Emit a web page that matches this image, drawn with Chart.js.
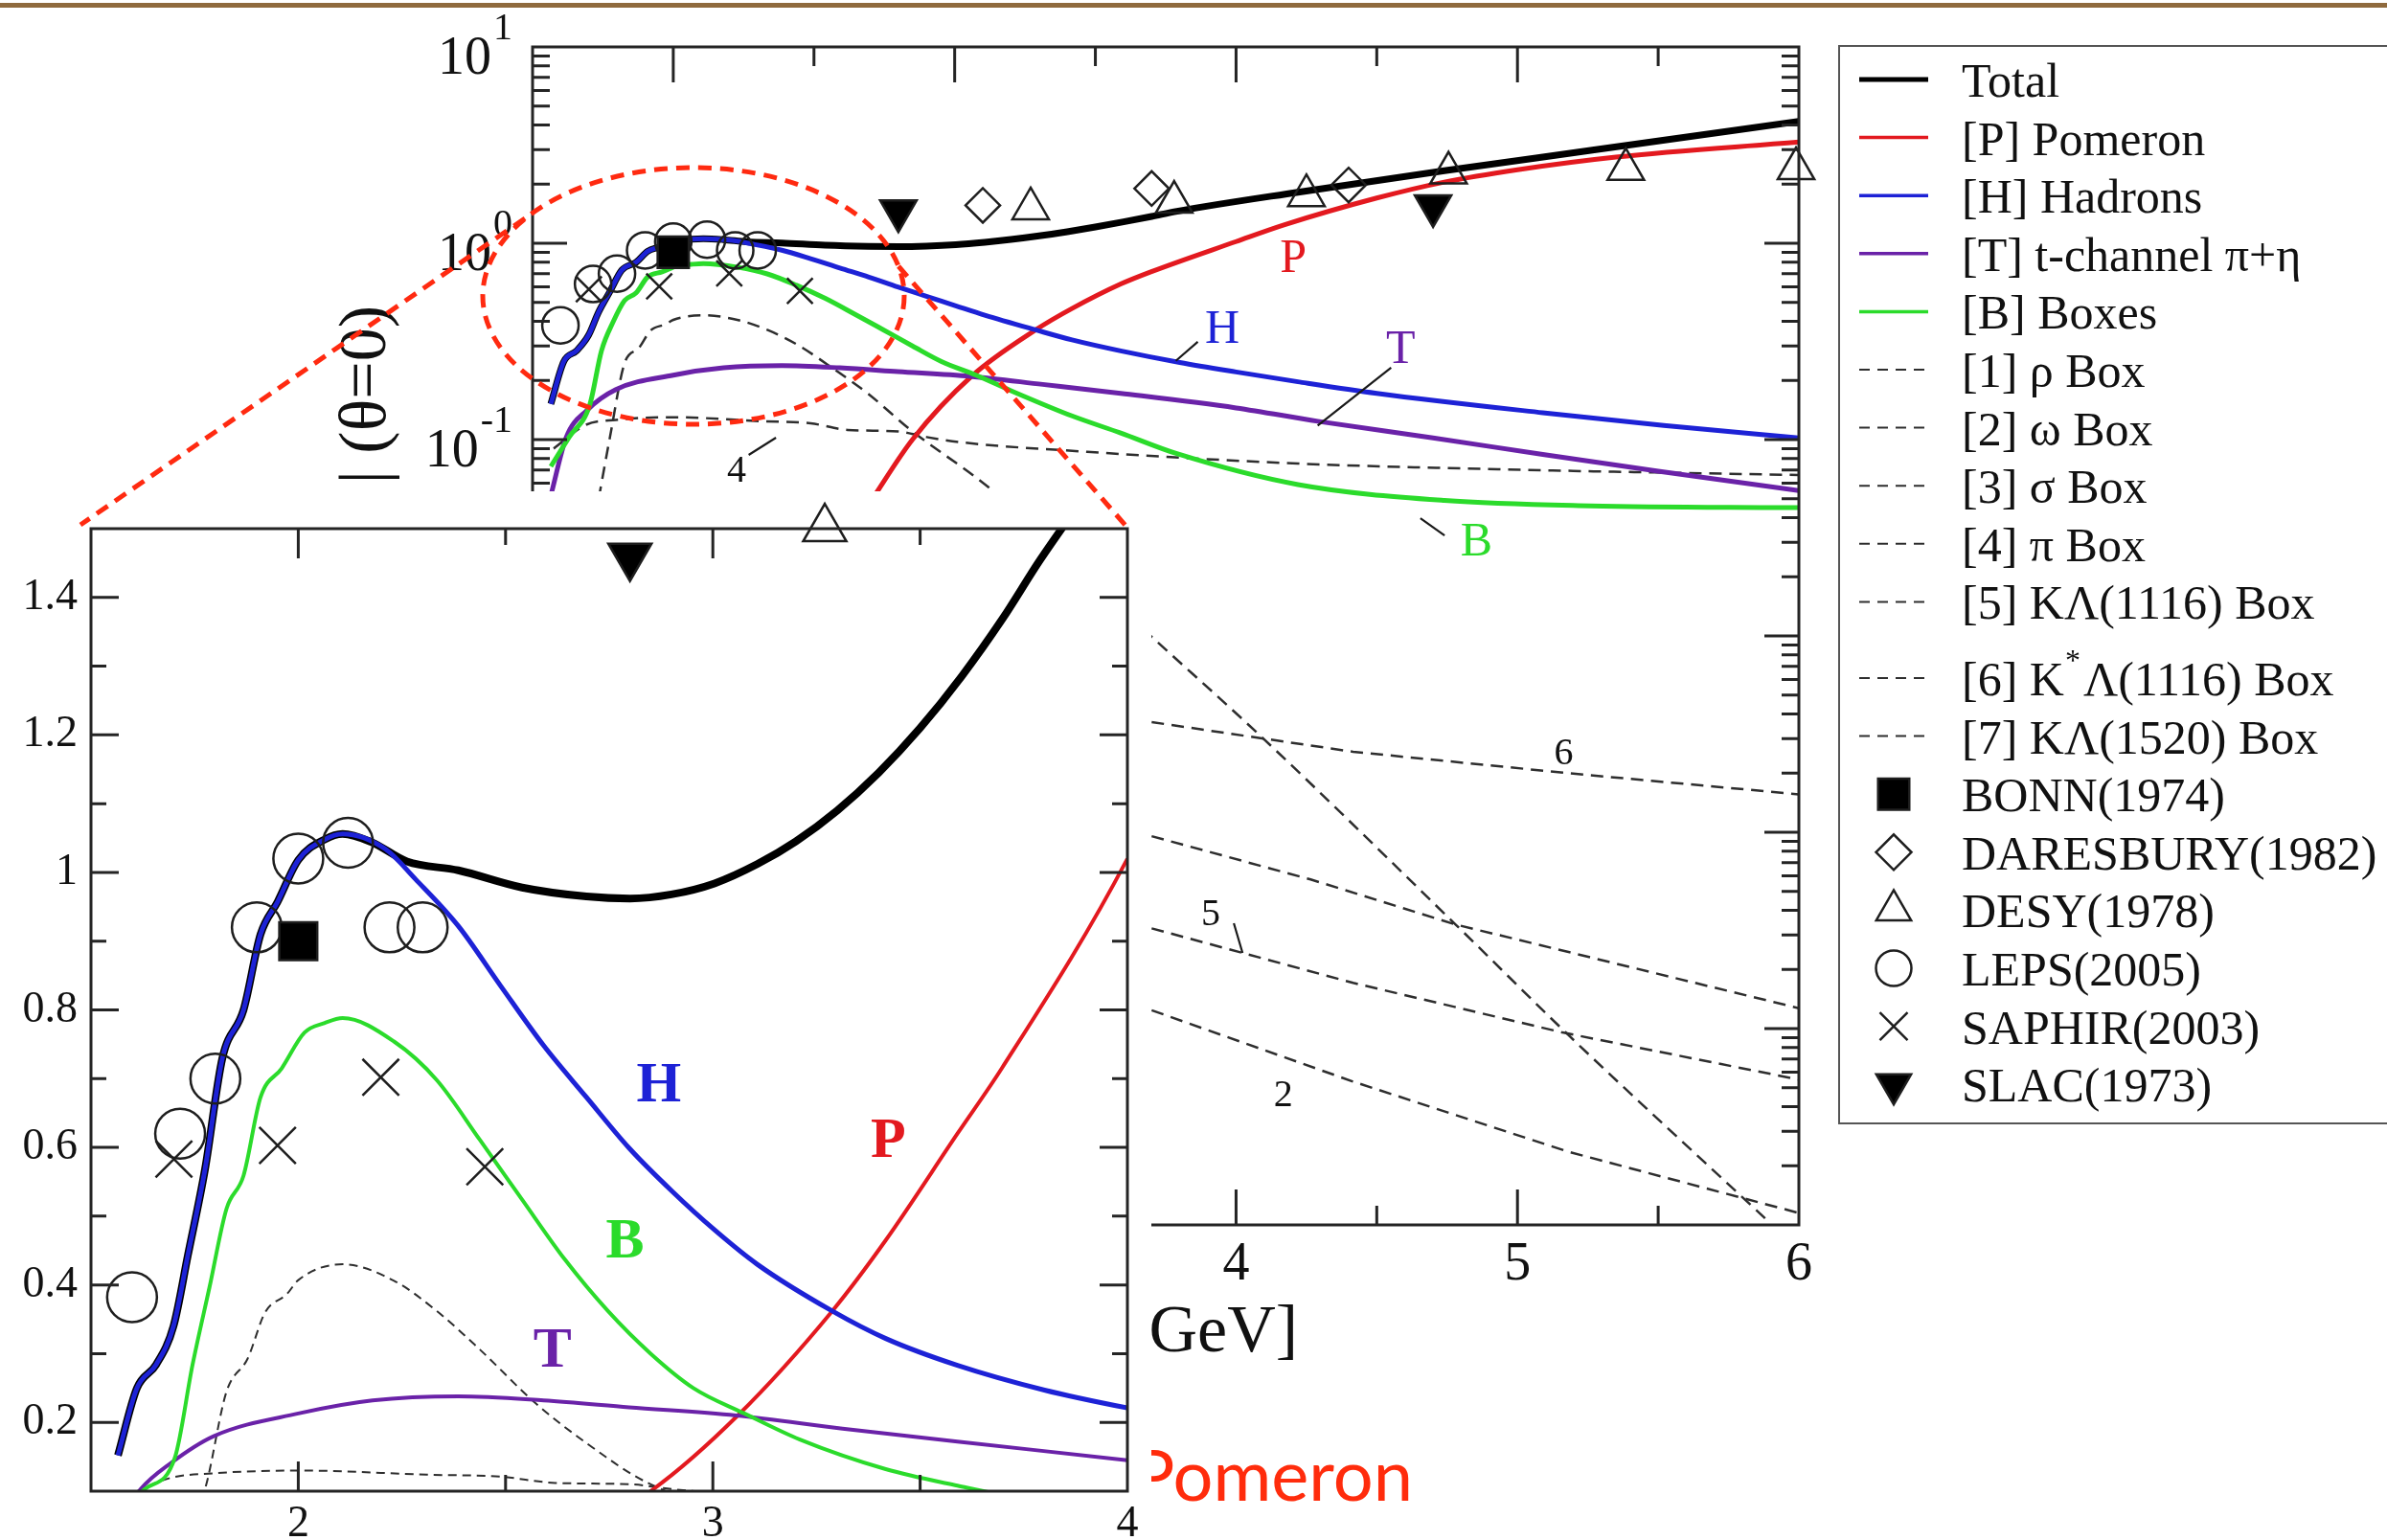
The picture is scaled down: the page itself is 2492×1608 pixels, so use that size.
<!DOCTYPE html>
<html>
<head>
<meta charset="utf-8">
<title>Forward photoproduction cross section</title>
<script src="https://cdn.jsdelivr.net/npm/chart.js@4.4.1/dist/chart.umd.min.js"></script>
<style>
  html, body { margin: 0; padding: 0; background: #ffffff; width: 2492px; height: 1608px; overflow: hidden; }
  canvas { position: absolute; left: 0; top: 0; }
</style>
</head>
<body>
<canvas id="mainChart" width="2492" height="1608"></canvas>
<canvas id="zoomChart" width="2492" height="1608"></canvas>
<script>
// ---------------- model curves: [W (GeV), dσ/dt at θ=0] ----------------
const total = [[1.565,0.152],[1.611,0.25],[1.657,0.284],[1.699,0.34],[1.734,0.444],[1.775,0.568],[1.817,0.73],[1.868,0.80],[1.909,0.91],[1.95,0.957],[2.0,1.018],[2.064,1.048],[2.107,1.056],[2.177,1.044],[2.262,1.016],[2.386,1.003],[2.54,0.978],[2.695,0.965],[2.80,0.962],[2.90,0.968],[3.004,0.984],[3.107,1.012],[3.20,1.045],[3.30,1.09],[3.40,1.145],[3.50,1.21],[3.60,1.285],[3.70,1.37],[3.79,1.455],[4.22,1.82],[4.74,2.34],[5.26,2.97],[6.0,4.18]];
const pomeron = [[2.70,0.048],[2.85,0.10],[3.06,0.21],[3.288,0.362],[3.417,0.465],[3.59,0.62],[3.697,0.715],[4.0,1.02],[4.17,1.24],[4.5,1.70],[4.74,2.05],[5.0,2.37],[5.35,2.75],[6.0,3.28]];
const hadrons = [[1.565,0.152],[1.611,0.25],[1.657,0.284],[1.699,0.34],[1.734,0.444],[1.775,0.568],[1.817,0.73],[1.868,0.80],[1.909,0.91],[1.95,0.957],[2.0,1.018],[2.064,1.048],[2.107,1.056],[2.21,1.034],[2.283,0.99],[2.386,0.922],[2.488,0.835],[2.592,0.748],[2.695,0.673],[2.798,0.599],[2.902,0.536],[3.004,0.48],[3.107,0.43],[3.288,0.362],[3.417,0.322],[3.59,0.283],[3.80,0.247],[4.0,0.221],[4.22,0.197],[4.5,0.172],[5.09,0.137],[5.52,0.118],[6.0,0.102]];
const tChannel = [[1.565,0.052],[1.62,0.103],[1.693,0.141],[1.796,0.18],[2.0,0.213],[2.179,0.232],[2.386,0.238],[2.592,0.232],[2.798,0.222],[3.056,0.21],[3.313,0.191],[3.59,0.172],[4.0,0.145],[4.29,0.124],[4.7,0.102],[5.09,0.084],[5.5,0.069],[6.0,0.055]];
const boxes = [[1.565,0.073],[1.63,0.103],[1.703,0.15],[1.745,0.284],[1.786,0.397],[1.827,0.511],[1.868,0.559],[1.909,0.673],[1.96,0.715],[2.015,0.767],[2.064,0.781],[2.107,0.788],[2.231,0.754],[2.334,0.698],[2.438,0.611],[2.54,0.524],[2.643,0.437],[2.747,0.362],[2.85,0.30],[2.953,0.25],[3.076,0.213],[3.21,0.175],[3.417,0.132],[3.59,0.108],[3.787,0.085],[4.22,0.059],[4.74,0.049],[5.26,0.046],[6.0,0.045]];
const rhoBox = [[1.735,0.05],[1.775,0.103],[1.827,0.245],[1.878,0.293],[1.92,0.36],[1.973,0.387],[2.0,0.407],[2.107,0.43],[2.231,0.406],[2.334,0.362],[2.438,0.306],[2.572,0.228],[2.695,0.17],[2.84,0.113],[3.128,0.056],[3.70,9.9e-3],[4.08,3.16e-3],[4.78,3.39e-4],[5.18,9.3e-5],[5.88,1.08e-5]];
const omegaBox = [[3.70,1.24e-4],[4.416,5.37e-5],[5.18,2.36e-5],[6.0,1.15e-5]];
const sigmaBox = [];
const piBox = [[1.575,0.09],[1.69,0.119],[1.796,0.126],[2.0,0.13],[2.31,0.124],[2.488,0.121],[2.62,0.112],[2.8,0.11],[2.9,0.103],[3.02,0.097],[3.45,0.087],[4.22,0.0755],[5.09,0.0698],[6.0,0.066]];
const kLambdaBox = [[3.70,3.24e-4],[4.416,1.71e-4],[5.16,9.55e-5],[6.0,5.5e-5]];
const kStarLambdaBox = [[3.70,3.64e-3],[4.416,2.57e-3],[5.18,2.0e-3],[6.0,1.56e-3]];
const kLambda1520Box = [[3.70,9.55e-4],[4.265,5.75e-4],[4.78,3.39e-4],[6.0,1.27e-4]];

// ---------------- measurements ----------------
const bonn = [[2.0,0.90]];
const daresbury = [[3.10,1.56],[3.70,1.90],[4.40,1.98]];
const desy = [[3.27,1.50],[3.78,1.62],[4.25,1.75],[4.755,2.28],[5.385,2.38],[5.99,2.40]];
const leps = [[1.599,0.382],[1.715,0.62],[1.80,0.70],[1.90,0.92],[2.0,1.02],[2.12,1.043],[2.22,0.92],[2.30,0.92]];
const saphir = [[1.70,0.583],[1.95,0.603],[2.199,0.702],[2.45,0.572]];
const slac = [[2.80,1.46],[4.70,1.55]];

// ---------------- axis tick labels ----------------
const logDecades = [1, 0, -1, -2, -3, -4, -5];
const mainXLabels = [2, 3, 4, 5, 6];
const zoomXLabels = [2, 3, 4];
const zoomYLabels = ['0.2', '0.4', '0.6', '0.8', '1', '1.2', '1.4'];

// ---------------- curve tags ----------------
const mainTags = [
  ['P', 4.203, 0.826, 'red'], ['H', 3.951, 0.362, 'blue'], ['T', 4.585, 0.284, 'purple'],
  ['B', 4.854, 0.0297, 'green'], ['4', 2.225, 0.0686, 'ink'], ['6', 5.164, 2.51e-3, 'ink'],
  ['5', 3.91, 3.8e-4, 'ink'], ['2', 4.168, 4.53e-5, 'ink']
];
const mainLeaders = [
  [3.786, 0.252, 3.864, 0.315], [4.29, 0.1178, 4.551, 0.2323], [4.655, 0.0398, 4.741, 0.0325],
  [2.268, 0.0836, 2.365, 0.1023], [3.992, 3.44e-4, 4.023, 2.43e-4]
];
const zoomTags = [['H', 2.87, 0.688, 'blue'], ['B', 2.788, 0.462, 'green'], ['T', 2.613, 0.303, 'purple'], ['P', 3.423, 0.608, 'red']];

const COL = { ink: '#111111', black: '#000000', red: '#e3191f', blue: '#1d22d6', purple: '#6a22a8', green: '#2bdb2b', dash: '#2e2e2e', frame: '#242424' };
const SERIF = '"Liberation Serif", "Times New Roman", serif';

const lineSeries = [
  { label: 'Total', data: total, color: COL.black, dashed: false, mw: 7, zw: 8, legW: 5, order: 5 },
  { label: '[P] Pomeron', data: pomeron, color: COL.red, dashed: false, mw: 5, zw: 4, legW: 3.5, order: 4 },
  { label: '[H] Hadrons', data: hadrons, color: COL.blue, dashed: false, mw: 5, zw: 5, legW: 3.5, order: 1 },
  { label: '[T] t-channel π+η', data: tChannel, color: COL.purple, dashed: false, mw: 5, zw: 4, legW: 3.5, order: 3 },
  { label: '[B] Boxes', data: boxes, color: COL.green, dashed: false, mw: 5, zw: 4, legW: 3.5, order: 2 },
  { label: '[1] ρ Box', data: rhoBox, color: COL.dash, dashed: true, order: 6 },
  { label: '[2] ω Box', data: omegaBox, color: COL.dash, dashed: true, order: 6 },
  { label: '[3] σ Box', data: sigmaBox, color: COL.dash, dashed: true, order: 6 },
  { label: '[4] π Box', data: piBox, color: COL.dash, dashed: true, order: 6 },
  { label: '[5] KΛ(1116) Box', data: kLambdaBox, color: COL.dash, dashed: true, order: 6 },
  { label: '[6] K*Λ(1116) Box', data: kStarLambdaBox, color: COL.dash, dashed: true, order: 6 },
  { label: '[7] KΛ(1520) Box', data: kLambda1520Box, color: COL.dash, dashed: true, order: 6 }
];
const markerSeries = [
  { label: 'BONN(1974)', data: bonn, style: 'rect', rot: 0, filled: true, mr: 23, zr: 28, legR: 23 },
  { label: 'DARESBURY(1982)', data: daresbury, style: 'rectRot', rot: 0, filled: false, mr: 18, zr: 25, legR: 18.5, skipZoom: true },
  { label: 'DESY(1978)', data: desy, style: 'triangle', rot: 0, filled: false, mr: 22, zr: 26, legR: 21, overTop: true },
  { label: 'LEPS(2005)', data: leps, style: 'circle', rot: 0, filled: false, mr: 19, zr: 26, legR: 18.5 },
  { label: 'SAPHIR(2003)', data: saphir, style: 'crossRot', rot: 0, filled: false, mr: 19, zr: 27, legR: 20.5 },
  { label: 'SLAC(1973)', data: slac, style: 'triangle', rot: 180, filled: true, mr: 22, zr: 26, legR: 21 }
];

const toXY = arr => arr.map(([x, y]) => ({ x, y }));

function lineDataset(s, zoom) {
  return {
    label: s.label, data: toXY(s.data), borderColor: s.color, backgroundColor: s.color,
    borderWidth: s.dashed ? (zoom ? 2 : 2.5) : (zoom ? s.zw : s.mw),
    borderDash: s.dashed ? (zoom ? [9, 6] : [13, 8]) : [],
    pointRadius: 0, fill: false, order: s.order,
    tension: 0, cubicInterpolationMode: s.dashed && !zoom && s.data.length < 6 ? 'default' : 'monotone',
    borderCapStyle: 'butt', borderJoinStyle: 'round'
  };
}
function markerDataset(s, zoom) {
  const ds = {
    label: s.label, data: toXY(s.data), showLine: false, order: 0,
    pointStyle: s.style, pointRotation: s.rot, pointRadius: zoom ? s.zr : s.mr,
    pointBorderColor: '#1e1e1e', pointBorderWidth: 2.5,
    pointBackgroundColor: s.filled ? '#000000' : 'rgba(0,0,0,0)',
    borderColor: '#1e1e1e', backgroundColor: 'rgba(0,0,0,0)'
  };
  if (!zoom) ds.clip = false;
  else if (s.overTop) ds.clip = { left: 0, top: 30, right: 0, bottom: 0 };
  return ds;
}

// ---------------- main (logarithmic) panel decorations ----------------
function drawSuperLabel(ctx, exp, xRight, y) {
  const sup = String(exp);
  ctx.textAlign = 'right'; ctx.textBaseline = 'middle';
  ctx.font = '40px ' + SERIF;
  const sw = ctx.measureText(sup).width;
  ctx.fillText(sup, xRight, y - 19);
  ctx.font = '56px ' + SERIF;
  ctx.fillText('10', xRight - sw - 2, y + 13);
}

const mainDecor = {
  id: 'mainDecor',
  afterDraw(chart) {
    const { ctx, chartArea: a } = chart;
    const xs = chart.scales.x, ys = chart.scales.y;
    ctx.save();
    ctx.setLineDash([]);
    // slide rule at the very top
    ctx.fillStyle = '#8f6a3d';
    ctx.fillRect(0, 3, 2492, 5);

    // frame with inward ticks on all four sides
    ctx.strokeStyle = COL.frame; ctx.lineWidth = 3;
    ctx.strokeRect(a.left, a.top, a.right - a.left, a.bottom - a.top);
    ctx.beginPath();
    for (let i = 1; i < 9; i++) {
      const v = 1.5 + i * 0.5, px = xs.getPixelForValue(v), len = Number.isInteger(v) ? 37 : 20;
      ctx.moveTo(px, a.bottom); ctx.lineTo(px, a.bottom - len);
      ctx.moveTo(px, a.top); ctx.lineTo(px, a.top + len);
    }
    for (let d = -5; d <= 0; d++) {
      for (let k = 1; k <= 9; k++) {
        const v = k * Math.pow(10, d);
        if (v <= 1e-5 * 1.0001) continue;
        const py = ys.getPixelForValue(v), len = k === 1 ? 36 : 18;
        ctx.moveTo(a.left, py); ctx.lineTo(a.left + len, py);
        ctx.moveTo(a.right, py); ctx.lineTo(a.right - len, py);
      }
    }
    ctx.stroke();

    // tick labels
    ctx.fillStyle = COL.ink;
    logDecades.forEach(d => drawSuperLabel(ctx, d, a.left - 21, ys.getPixelForValue(Math.pow(10, d))));
    ctx.font = '56px ' + SERIF; ctx.textAlign = 'center'; ctx.textBaseline = 'middle';
    mainXLabels.forEach(v => ctx.fillText(String(v), xs.getPixelForValue(v), a.bottom + 42));

    // axis titles
    ctx.font = '70px ' + SERIF; ctx.textAlign = 'right'; ctx.textBaseline = 'alphabetic';
    ctx.fillText('W [GeV]', 1355, 1411);
    ctx.save();
    ctx.translate(384, 319); ctx.rotate(-Math.PI / 2);
    ctx.font = '70px ' + SERIF; ctx.textAlign = 'right'; ctx.textBaseline = 'middle';
    ctx.fillText('dσ/dt | (θ=0)', 0, 0);
    ctx.restore();

    // curve tags and leader lines
    ctx.textAlign = 'center'; ctx.textBaseline = 'middle';
    mainTags.forEach(([t, x, y, c]) => {
      ctx.font = (/[A-Z]/.test(t) ? '50px ' : '40px ') + SERIF;
      ctx.fillStyle = COL[c];
      ctx.fillText(t, xs.getPixelForValue(x), ys.getPixelForValue(y));
    });
    ctx.strokeStyle = '#1a1a1a'; ctx.lineWidth = 2.2;
    ctx.beginPath();
    mainLeaders.forEach(([x1, y1, x2, y2]) => {
      ctx.moveTo(xs.getPixelForValue(x1), ys.getPixelForValue(y1));
      ctx.lineTo(xs.getPixelForValue(x2), ys.getPixelForValue(y2));
    });
    ctx.stroke();

    drawLegend(ctx);

    // slide caption partly hidden behind the zoom panel
    ctx.fillStyle = '#ff2c0c';
    ctx.font = '74px Lato, "Open Sans", sans-serif';
    ctx.textAlign = 'left'; ctx.textBaseline = 'alphabetic';
    ctx.fillText('Pomeron', 1182, 1567);
    ctx.restore();
  }
};

function legendRowY(i) { return 83 + i * 60.6 + (i >= 10 ? 19 : 0); }

function drawLegend(ctx) {
  ctx.save();
  ctx.strokeStyle = '#555555'; ctx.lineWidth = 2; ctx.setLineDash([]);
  ctx.strokeRect(1920, 48, 620, 1125);
  const textX = 2048;
  let row = 0;
  lineSeries.forEach(s => {
    const y = legendRowY(row++);
    ctx.strokeStyle = s.color;
    ctx.lineWidth = s.dashed ? 2 : s.legW;
    ctx.setLineDash(s.dashed ? [11, 8] : []);
    ctx.beginPath(); ctx.moveTo(1941, y); ctx.lineTo(2013, y); ctx.stroke();
    drawLegendText(ctx, s.label, textX, y);
  });
  ctx.setLineDash([]);
  markerSeries.forEach(s => {
    const y = legendRowY(row++);
    ctx.strokeStyle = '#1e1e1e'; ctx.lineWidth = 2.5;
    ctx.fillStyle = s.filled ? '#000000' : 'rgba(0,0,0,0)';
    Chart.helpers.drawPoint(ctx, { pointStyle: s.style, rotation: s.rot, radius: s.legR, borderWidth: 2.5 }, 1977, y);
    drawLegendText(ctx, s.label, textX, y);
  });
  ctx.restore();
}

function drawLegendText(ctx, label, x, y) {
  ctx.fillStyle = COL.ink; ctx.textAlign = 'left'; ctx.textBaseline = 'alphabetic';
  ctx.font = '50px ' + SERIF;
  const base = y + 18;
  const star = label.indexOf('*');
  if (star < 0) { ctx.fillText(label, x, base); return; }
  const head = label.slice(0, star), tail = label.slice(star + 1);
  ctx.fillText(head, x, base);
  let cx = x + ctx.measureText(head).width + 1;
  ctx.font = '32px ' + SERIF;
  ctx.fillText('*', cx, base - 26);
  cx += ctx.measureText('*').width + 3;
  ctx.font = '50px ' + SERIF;
  ctx.fillText(tail, cx, base);
}

// ---------------- zoom (linear) panel decorations ----------------
const zoomDecor = {
  id: 'zoomDecor',
  beforeDraw(chart) {
    const ctx = chart.ctx;
    ctx.save();
    ctx.fillStyle = '#ffffff';
    ctx.fillRect(0, 513, 1202, 1095);
    ctx.restore();
  },
  afterDraw(chart) {
    const { ctx, chartArea: a } = chart;
    const xs = chart.scales.x, ys = chart.scales.y;
    ctx.save();
    ctx.setLineDash([]);
    ctx.strokeStyle = COL.frame; ctx.lineWidth = 3;
    ctx.strokeRect(a.left, a.top, a.right - a.left, a.bottom - a.top);
    ctx.beginPath();
    for (let i = 1; i < 5; i++) {
      const v = 1.5 + i * 0.5, px = xs.getPixelForValue(v), len = Number.isInteger(v) ? 31 : 17;
      ctx.moveTo(px, a.bottom); ctx.lineTo(px, a.bottom - len);
      ctx.moveTo(px, a.top); ctx.lineTo(px, a.top + len);
    }
    for (let i = 1; i < 14; i++) {
      const v = 0.1 + i * 0.1, py = ys.getPixelForValue(v), len = i % 2 === 1 ? 29 : 16;
      ctx.moveTo(a.left, py); ctx.lineTo(a.left + len, py);
      ctx.moveTo(a.right, py); ctx.lineTo(a.right - len, py);
    }
    ctx.stroke();

    ctx.fillStyle = COL.ink;
    ctx.font = '46px ' + SERIF;
    ctx.textAlign = 'right'; ctx.textBaseline = 'middle';
    zoomYLabels.forEach(t => ctx.fillText(t, 81, ys.getPixelForValue(parseFloat(t))));
    ctx.textAlign = 'center';
    zoomXLabels.forEach(v => ctx.fillText(String(v), xs.getPixelForValue(v), a.bottom + 35));

    ctx.font = 'bold 60px ' + SERIF;
    zoomTags.forEach(([t, x, y, c]) => {
      ctx.fillStyle = COL[c];
      ctx.fillText(t, xs.getPixelForValue(x), ys.getPixelForValue(y));
    });

    // magnifier outline linking the resonance region to this panel
    ctx.strokeStyle = '#ff2a10'; ctx.lineWidth = 5; ctx.setLineDash([14, 9]);
    ctx.beginPath(); ctx.ellipse(724, 309, 220, 134, 0, 0, Math.PI * 2); ctx.stroke();
    ctx.beginPath(); ctx.moveTo(548, 228); ctx.lineTo(84, 548); ctx.stroke();
    ctx.beginPath(); ctx.moveTo(938, 278); ctx.lineTo(1178, 552); ctx.stroke();
    ctx.restore();
  }
};

const baseOptions = {
  responsive: false, animation: false, events: [],
  plugins: { legend: { display: false }, tooltip: { enabled: false } }
};

new Chart(document.getElementById('mainChart'), {
  type: 'line',
  data: { datasets: [...lineSeries.map(s => lineDataset(s, false)), ...markerSeries.map(s => markerDataset(s, false))] },
  options: {
    ...baseOptions,
    layout: { autoPadding: false, padding: { left: 556, top: 49, right: 614, bottom: 329 } },
    scales: {
      x: { type: 'linear', min: 1.5, max: 6, display: false },
      y: { type: 'logarithmic', min: 1e-5, max: 10, display: false }
    }
  },
  plugins: [mainDecor]
});

const zoomLines = lineSeries.filter(s => [total, pomeron, hadrons, tChannel, boxes, rhoBox, piBox].includes(s.data));
new Chart(document.getElementById('zoomChart'), {
  type: 'line',
  data: { datasets: [...zoomLines.map(s => lineDataset(s, true)), ...markerSeries.filter(s => !s.skipZoom).map(s => markerDataset(s, true))] },
  options: {
    ...baseOptions,
    layout: { autoPadding: false, padding: { left: 95, top: 552, right: 1315, bottom: 51 } },
    scales: {
      x: { type: 'linear', min: 1.5, max: 4, display: false },
      y: { type: 'linear', min: 0.1, max: 1.5, display: false }
    }
  },
  plugins: [zoomDecor]
});
</script>
</body>
</html>
